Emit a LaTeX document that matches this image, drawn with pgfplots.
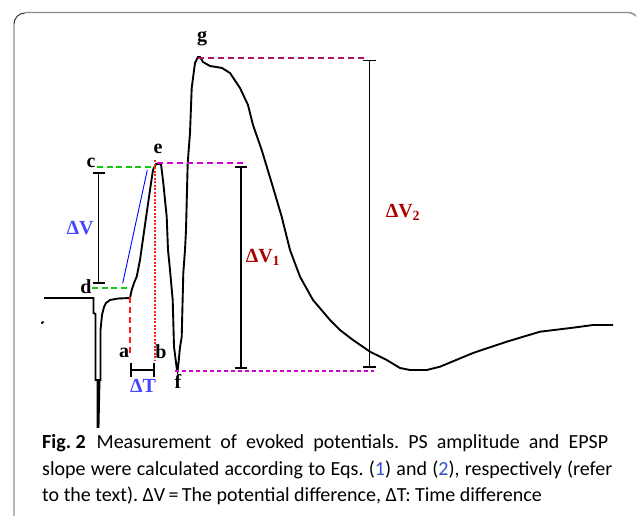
\documentclass[border=0pt]{standalone}
\usepackage{fontspec}
\setmainfont{Carlito}
\newfontfamily\tnr{Liberation Serif}
\usepackage{pgfplots}
\pgfplotsset{compat=1.18}

\definecolor{dgreen}{RGB}{20,200,20}
\definecolor{emag}{RGB}{210,0,210}
\definecolor{gmag}{RGB}{170,20,100}
\definecolor{dred}{RGB}{255,30,30}
\definecolor{dvblue}{RGB}{70,70,255}
\definecolor{dvred}{RGB}{170,0,0}
\definecolor{refblue}{RGB}{50,80,200}

\begin{document}
\frenchspacing
\begin{tikzpicture}
\useasboundingbox (0,0) rectangle (636bp,516bp);
\begin{axis}[
    scale only axis,
    width=636bp, height=516bp,
    xmin=0, xmax=636, ymin=0, ymax=516,
    y dir=reverse,
    hide axis,
    clip=false,
]
% frame
\draw[black!80, line width=1pt] (axis cs:14,520) -- (axis cs:14,24) arc[start angle=180, end angle=90, radius=11bp];
\draw[black!45, line width=1.4pt] (axis cs:25,12.5) -- (axis cs:628,12.5) arc[start angle=90, end angle=30, radius=11bp];

% evoked potential trace
\addplot[black, line width=1.9pt, line join=miter] coordinates {
    (44,298) (93.5,298) (93.5,313) (95.5,314) (95.5,380) (97.5,380)
    (97.5,427) (98.5,427) (99.5,380) (100.5,380) (100.5,330) (102,315)
    (104,307) (106,303) (110,300) (118,298.5) (130,298)
    (131.7,290) (134,283) (136.7,276.7) (140,260) (143.3,236.7)
    (146.7,213) (150,190) (153,170) (156,164) (161,164) (163.3,183)
    (166.7,216.7) (168,250) (170,270) (172.7,300) (174,346.7)
    (176.7,368) (177.5,371) (178.5,363) (180,347) (181.7,337)
    (183.3,273) (185,250) (186,230) (187.7,163) (190,133) (191.7,88)
    (195,63) (198,57) (200,57) (203,62) (210,66) (216,67) (222,68)
    (230,73) (240,88) (248,105) (253,125) (261.7,150) (271.7,183)
    (281.7,216.7) (290,250) (300,276.7) (313,300) (330,320) (340,330)
    (353,340) (370,351.7) (386.7,360) (400,368) (410,370) (426.7,370)
    (440,366.7) (473,353) (506.7,341.7) (540,331.7) (573,327.7)
    (593,325) (613,325)
};
\addplot[black, line width=1.8pt] coordinates {(41.5,323.5) (43.5,321.5)};

% guide lines
\addplot[dgreen, line width=2pt, dash pattern=on 6bp off 3.5bp] coordinates {(97,167.3) (155,167.3)};
\addplot[dgreen, line width=2pt, dash pattern=on 6bp off 3.5bp] coordinates {(92,288.3) (130,288.3)};
\addplot[emag, line width=1.8pt, dash pattern=on 6bp off 4bp] coordinates {(157,163.3) (244,163.3)};
\addplot[gmag, line width=2pt, dash pattern=on 6bp off 4bp] coordinates {(198,58) (367,58)};
\addplot[emag, line width=1.1pt, dash pattern=on 4bp off 3bp] coordinates {(175,371) (374,371)};
\addplot[dred, line width=2.2pt, dash pattern=on 6bp off 4bp] coordinates {(130,297) (130,357)};
\addplot[dred, line width=1.1pt, dash pattern=on 2bp off 1.5bp] coordinates {(155,160) (155,360)};
\addplot[blue, line width=0.9pt] coordinates {(122.7,283.3) (147.3,170)};

% brackets
\addplot[black, line width=1.6pt] coordinates {(98.5,173.3) (98.5,282.7)};
\addplot[black, line width=2pt] coordinates {(92.5,173.3) (105,173.3)};
\addplot[black, line width=2pt] coordinates {(92.5,282.7) (105,282.7)};
\addplot[black, line width=1.6pt] coordinates {(131,370) (154.3,370)};
\addplot[black, line width=2pt] coordinates {(131,363.3) (131,376.7)};
\addplot[black, line width=2pt] coordinates {(154.3,363.3) (154.3,376.7)};
\addplot[black, line width=1.8pt] coordinates {(240.7,167.3) (240.7,368.3)};
\addplot[black, line width=2pt] coordinates {(234.5,167.3) (247,167.3)};
\addplot[black, line width=2pt] coordinates {(234.5,368.3) (247,368.3)};
\addplot[black, line width=1.1pt] coordinates {(369.3,60.7) (369.3,366.7)};
\addplot[black, line width=1.6pt] coordinates {(362.7,60.7) (376,60.7)};
\addplot[black, line width=1.6pt] coordinates {(362.7,366.7) (376,366.7)};

% point labels
\node[font=\tnr\bfseries\fontsize{20bp}{20bp}\selectfont] at (axis cs:91,163) {c};
\node[font=\tnr\bfseries\fontsize{20bp}{20bp}\selectfont] at (axis cs:86,287) {d};
\node[font=\tnr\bfseries\fontsize{20bp}{20bp}\selectfont] at (axis cs:158,149) {e};
\node[font=\tnr\bfseries\fontsize{20bp}{20bp}\selectfont] at (axis cs:202,39) {g};
\node[font=\tnr\bfseries\fontsize{20bp}{20bp}\selectfont] at (axis cs:124,353) {a};
\node[font=\tnr\bfseries\fontsize{20bp}{20bp}\selectfont] at (axis cs:161,352) {b};
\node[font=\tnr\bfseries\fontsize{20bp}{20bp}\selectfont] at (axis cs:178,381) {f};
\node[font=\tnr\bfseries\fontsize{20bp}{20bp}\selectfont, text=dvblue] at (axis cs:80,228) {ΔV};
\node[font=\tnr\bfseries\fontsize{20bp}{20bp}\selectfont, text=dvblue] at (axis cs:143,386) {ΔT};
\node[font=\tnr\bfseries\fontsize{20bp}{20bp}\selectfont, text=dvred] at (axis cs:263,257) {ΔV\textsubscript{1}};
\node[font=\tnr\bfseries\fontsize{20bp}{20bp}\selectfont, text=dvred] at (axis cs:403,212) {ΔV\textsubscript{2}};

% caption
\node[anchor=base west, inner sep=0pt, font=\fontsize{20bp}{20bp}\selectfont] at (axis cs:42,448)
  {\makebox[566bp][s]{\textbf{Fig.\hspace{0.22em}2}\hspace{0.55em}Measurement of evoked potentials. PS amplitude and EPSP}};
\node[anchor=base west, inner sep=0pt, font=\fontsize{20bp}{20bp}\selectfont] at (axis cs:42,475)
  {\makebox[570bp][s]{slope were calculated according to Eqs. (\textcolor{refblue}{1}) and (\textcolor{refblue}{2}), respectively (refer}};
\node[anchor=base west, inner sep=0pt, font=\fontsize{20bp}{20bp}\selectfont] at (axis cs:42,501)
  {to the text). ΔV\,=\,The potential difference, ΔT: Time difference};
\end{axis}
\end{tikzpicture}
\end{document}
